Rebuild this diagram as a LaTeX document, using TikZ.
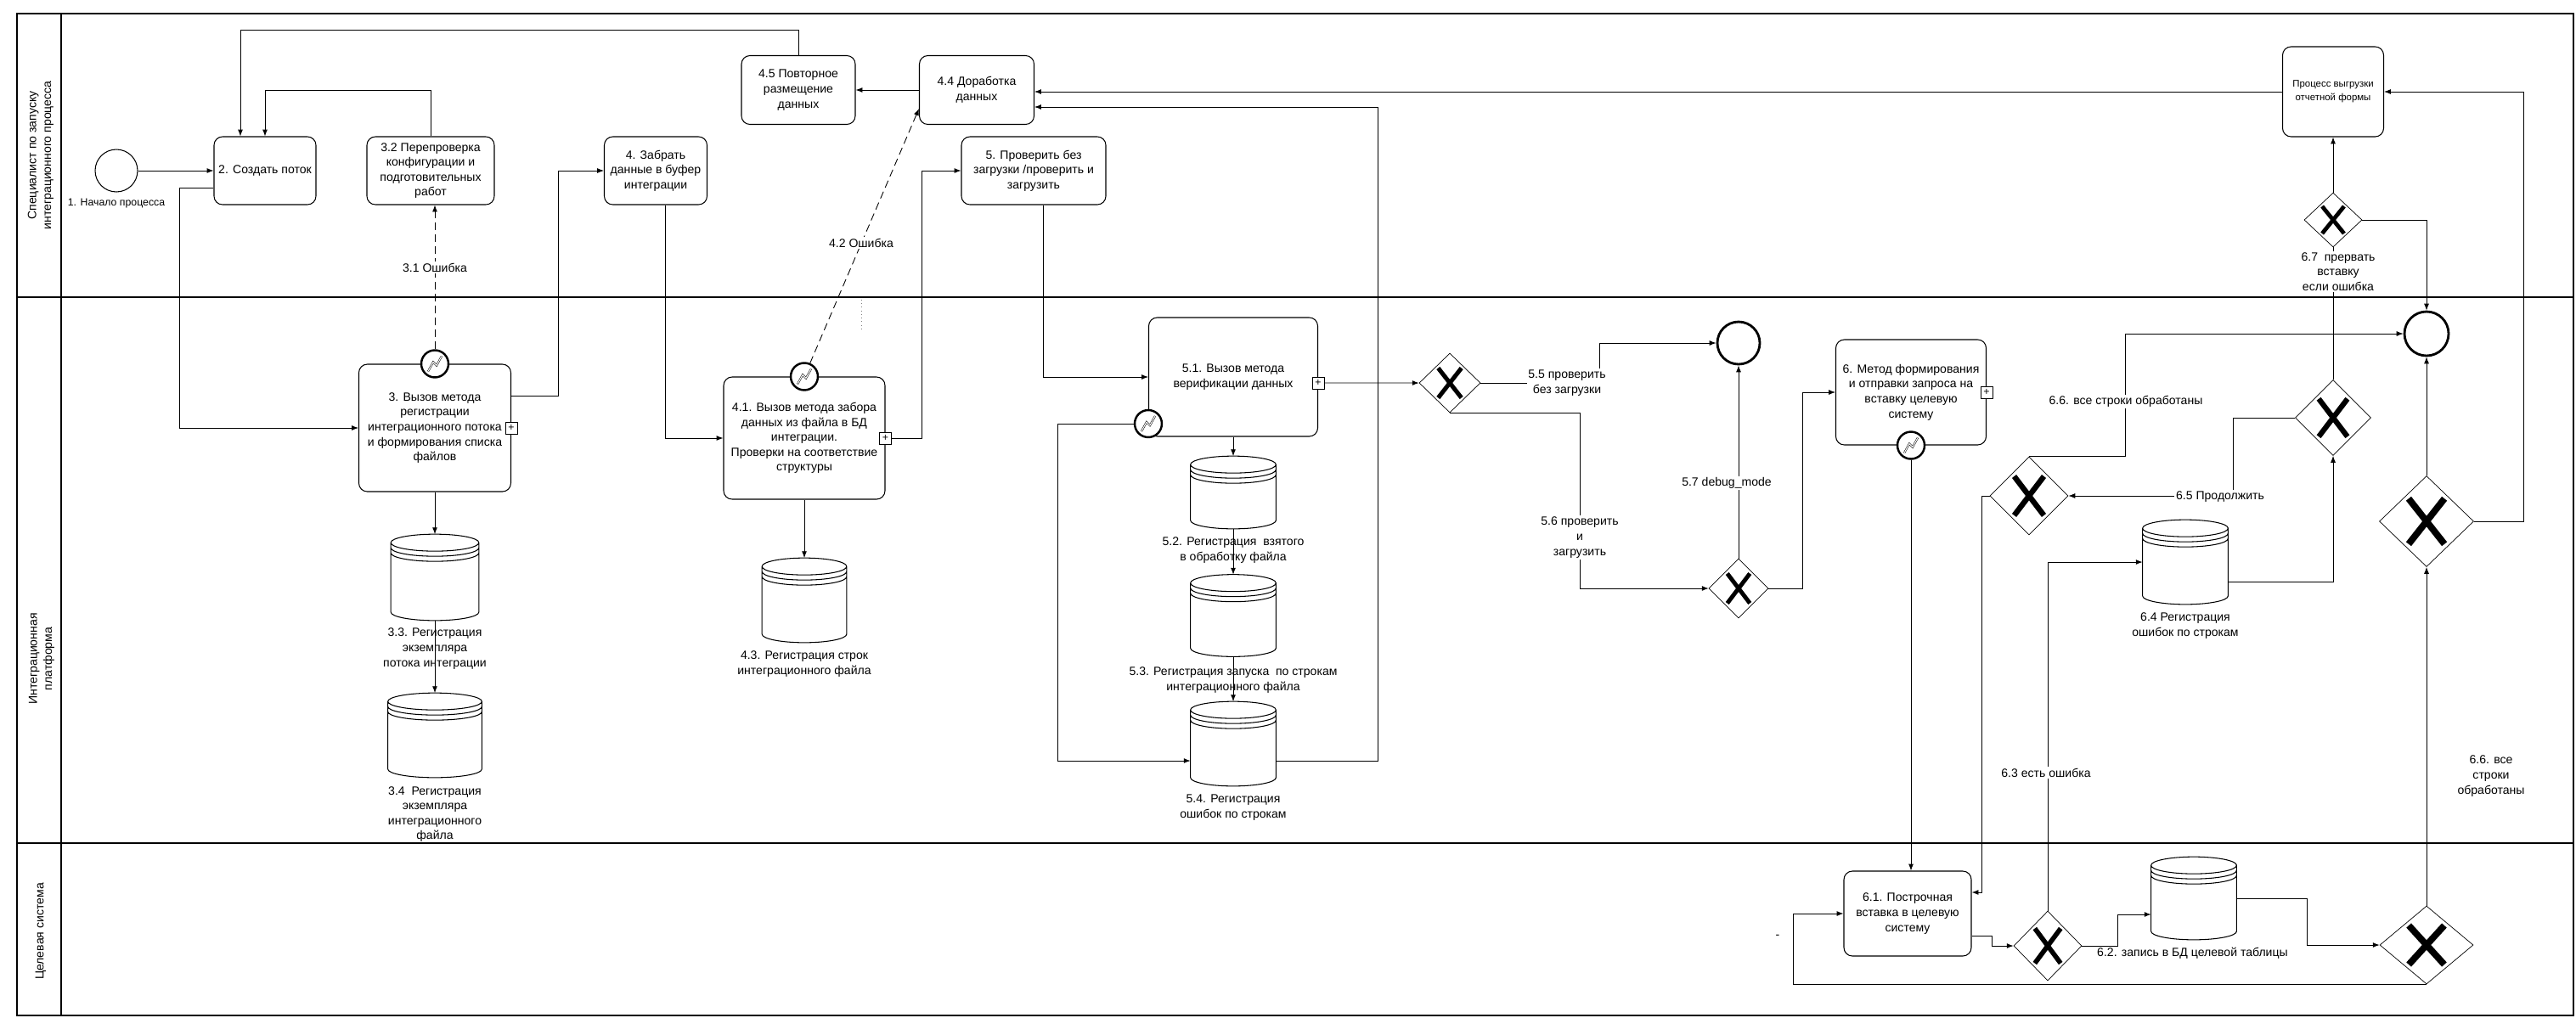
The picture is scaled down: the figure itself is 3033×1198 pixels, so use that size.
\documentclass[tikz,border=0pt]{standalone}
\usepackage{fontspec}
\setmainfont{Liberation Sans}
\usetikzlibrary{shapes.geometric,calc,arrows.meta}

% database symbol drawn on the box of a node
\newcommand{\dbdraw}[1]{%
  \draw[line width=0.6pt] let \p1=(#1.north west), \p2=(#1.south east), \n1={0.5*(\x2-\x1)} in
    (\x1,\y1-0.2cm) -- (\x1,\y2+0.2cm)
    arc[start angle=180, end angle=360, x radius=\n1*1pt, y radius=0.2cm]
    -- (\x2,\y1-0.2cm)
    arc[start angle=0, end angle=360, x radius=\n1*1pt, y radius=0.2cm]
    (\x1,\y1-0.32cm) arc[start angle=180, end angle=360, x radius=\n1*1pt, y radius=0.2cm]
    (\x1,\y1-0.44cm) arc[start angle=180, end angle=360, x radius=\n1*1pt, y radius=0.2cm];}

\begin{document}
\begin{tikzpicture}[x=0.02cm, y=-0.02cm,
    font=\fontsize{8}{10}\selectfont,
    >={Latex[length=4.5pt,width=3.4pt]},
    lane/.style={line width=1.2pt},
    task/.style 2 args={draw, line width=0.6pt, rounded corners=0.2cm, align=center,
      inner sep=1pt, minimum width=#1*0.02cm, minimum height=#2*0.02cm},
    db/.style 2 args={inner sep=0pt, minimum width=#1*0.02cm, minimum height=#2*0.02cm},
    gw/.style 2 args={diamond, draw, line width=0.4pt, inner sep=0pt,
      minimum width=#1*0.02cm, minimum height=#2*0.02cm,
      path picture={\draw[line width=#1*0.04pt, shift={(path picture bounding box.center)}]
        (-0.19*#1,-0.25*#2) -- (0.19*#1,0.25*#2) (-0.19*#1,0.25*#2) -- (0.19*#1,-0.25*#2);}},
    startev/.style={circle, draw, line width=0.6pt, minimum size=1cm, inner sep=0pt},
    endev/.style={circle, draw, line width=1.6pt, minimum size=1cm, inner sep=0pt},
    errev/.style={circle, draw, fill=white, line width=1.4pt, minimum size=0.64cm, inner sep=0pt,
      path picture={\draw[double, line width=0.3pt, shift={(path picture bounding box.center)}]
        (-8,9) -- (-2,-2) -- (2,2) -- (8,-9);}},
    subm/.style={draw, fill=white, line width=0.5pt, minimum size=0.28cm, inner sep=0pt,
      font=\fontsize{7}{7}\selectfont},
    flow/.style={->, line width=0.5pt},
    errflow/.style={->, line width=0.5pt, dash pattern=on 5pt off 3pt},
    lbl/.style={fill=white, inner sep=1pt, align=center}]

  \useasboundingbox (0,0) rectangle (3033,1198);

  % lanes
  \draw[lane] (20,16) rectangle (3030,1196);
  \draw[lane] (72,16) -- (72,1196);
  \draw[lane] (20,350) -- (3030,350);
  \draw[lane] (20,993) -- (3030,993);
  \node[rotate=90, align=center] (ln1) at (48,183) {Специалист по запуску\\интеграционного процесса};
  \node[rotate=90, align=center] (ln2) at (49,776) {Интеграционная\\платформа};
  \node[rotate=90] (ln3) at (48,1097) {Целевая система};

  % top lane
  \node[startev] (st) at (137,201) {};
  \node[font=\fontsize{7}{8}\selectfont] (stl) at (137,240) {1. Начало процесса};
  \node[task={120}{80}] (b2) at (312,201) {2. Создать поток};
  \node[task={150}{80}] (b32) at (507,201) {3.2 Перепроверка\\конфигурации и\\подготовительных\\работ};
  \node[task={121}{80}] (b4) at (772,201) {4. Забрать\\данные в буфер\\интеграции};
  \node[task={134}{81}] (b45) at (940,106) {4.5 Повторное\\размещение\\данных};
  \node[task={135}{81}] (b44) at (1150,106) {4.4 Доработка\\данных};
  \node[task={170}{80}] (b5) at (1217,201) {5. Проверить без\\загрузки /проверить и\\загрузить};
  \node[task={119}{106}, font=\fontsize{6.5}{9}\selectfont] (proc) at (2747,108) {Процесс выгрузки\\отчетной формы};
  \node[gw={68}{64}] (g5) at (2747,259) {};

  % integration platform lane
  \node[task={179}{150}] (b3) at (512,504) {3. Вызов метода\\регистрации\\интеграционного потока\\и формирования списка\\файлов};
  \node[errev] (e3) at (b3.north) {};
  \node[subm] (m3) at (b3.east) {+};
  \node[db={103}{101}] (c33) at (512,680) {}; \dbdraw{c33}
  \node[align=center] (c33l) at (512,764) {3.3. Регистрация\\экземпляра\\потока интеграции};
  \node[db={110}{99}] (c34) at (512,866) {}; \dbdraw{c34}
  \node[align=center] (c34l) at (512,959) {3.4\ \ Регистрация\\экземпляра\\интеграционного\\файла};

  \node[task={190}{144}] (b41) at (947,516) {4.1. Вызов метода забора\\данных из файла в БД\\интеграции.\\Проверки на соответствие\\структуры};
  \node[errev] (e41) at (b41.north) {};
  \node[subm] (m41) at (b41.east) {+};
  \node[db={99}{99}] (c43) at (947,707) {}; \dbdraw{c43}
  \node[align=center] (c43l) at (947,782) {4.3. Регистрация строк\\интеграционного файла};

  \node[task={199}{140}] (b51) at (1452,444) {5.1. Вызов метода\\верификации данных};
  \node[errev] (e51) at ([yshift=-1.1cm]b51.west) {};
  \node[subm] (m51) at ([yshift=-0.14cm]b51.east) {+};
  \node[db={100}{85}] (c52) at (1452,580) {}; \dbdraw{c52}
  \node[align=center] (c52l) at (1452,648) {5.2. Регистрация\ \ взятого\\в обработку файла};
  \node[db={100}{96}] (c53) at (1452,725) {}; \dbdraw{c53}
  \node[align=center] (c53l) at (1452,801) {5.3. Регистрация запуска\ \ по строкам\\интеграционного файла};
  \node[db={100}{99}] (c54) at (1452,876) {}; \dbdraw{c54}
  \node[align=center] (c54l) at (1452,951) {5.4. Регистрация\\ошибок по строкам};

  \node[gw={72}{70}] (g1) at (1707,451) {};
  \node[endev] (e1) at (2047,404) {};
  \node[gw={70}{70}] (g2) at (2047,693) {};
  \node[task={177}{124}] (b6) at (2250,462) {6. Метод формирования\\и отправки запроса на\\вставку целевую\\систему};
  \node[errev] (e6) at (b6.south) {};
  \node[subm] (m6) at (b6.east) {+};

  \node[gw={92}{92}] (g3) at (2389,584) {};
  \node[gw={89}{89}] (g4) at (2747,492) {};
  \node[endev, minimum size=1.04cm] (e2) at (2857,393) {};
  \node[gw={111}{107}] (g7) at (2857,614) {};
  \node[db={100}{99}] (c64) at (2573,662) {}; \dbdraw{c64}
  \node[align=center] (c64l) at (2573,737) {6.4 Регистрация\\ошибок по строкам};
  \node[align=center] (l66b) at (2933,914) {6.6. все\\строки\\обработаны};

  % target system lane
  \node[task={150}{100}] (b61) at (2246,1076) {6.1. Построчная\\вставка в целевую\\систему};
  \node[gw={80}{82}] (g6) at (2411,1114) {};
  \node[db={100}{97}] (c62) at (2583,1058) {}; \dbdraw{c62}
  \node[gw={110}{92}] (g8) at (2857,1113) {};
  \node[anchor=west] (l62) at (2463,1123) {6.2. запись в БД целевой таблицы};
  \node (dash) at (2093,1103) {-};

  \draw[gray, dotted] (1014,353) -- (1014,390);

  % flows
  \draw[flow] (st) -- (b2);
  \draw[flow] (b32.north) -- ++(0,-54) -| (b2.north);
  \draw[flow] (b45.north) -- ++(0,-30) -| ([xshift=-0.58cm]b2.north);
  \draw[flow] ([yshift=-0.4cm]b2.west) -- ++(-40,0) |- (b3.west);
  \draw[flow] ([yshift=0.76cm]b3.east) -- ++(55,0) |- (b4.west);
  \draw[errflow] (e3.north) -- (e3.north |- b32.south);
  \node[lbl] (l31) at (512,315) {3.1 Ошибка};
  \draw[flow] (b3) -- (c33);
  \draw[flow] (c33) -- (c34);

  \draw[flow] ([xshift=0.22cm]b4.south) |- (b41.west);
  \draw[errflow] (e41) -- ([yshift=0.38cm]b44.south west);
  \node[lbl] (l42) at (1014,286) {4.2 Ошибка};
  \draw[flow] (b41) -- (c43);
  \draw[flow] (b44) -- (b45);
  \draw[flow] (m41.east) -- ++(35,0) |- (b5.west);

  \draw[flow] ([xshift=0.22cm]b5.south) |- (b51.west);
  \draw[flow] (b51) -- (c52);
  \draw[flow] (c52) -- (c53);
  \draw[flow] (c53) -- (c54);
  \draw[flow] (e51.west) -- ++(-89,0) |- ([yshift=-0.4cm]c54.west);
  \draw[flow] ([yshift=-0.4cm]c54.east) -- ++(120,0) |- ([yshift=-0.4cm]b44.east);

  \draw[flow] (m51.east) -- (g1.west);
  \draw[flow] (g1.east) -- ++(140,0) |- (e1.west);
  \node[lbl] (l55) at (1845,451) {5.5 проверить\\без загрузки};
  \draw[flow] (g1.south) -- ++(153,0) |- (g2.west);
  \node[lbl] (l56) at (1860,633) {5.6 проверить\\и\\загрузить};
  \draw[flow] (g2) -- (e1);
  \node[lbl] (l57) at (2033,569) {5.7 debug\_mode};
  \draw[flow] (g2.east) -- ++(40,0) |- (b6.west);
  \draw[flow] (e6.south) -- (e6.south |- b61.north);

  \draw[flow] ([yshift=-0.52cm]b61.east) -- ++(24,0) |- (g6.west);
  \draw[flow] (g6.east) -- ++(42,0) |- ([yshift=-0.38cm]c62.west);
  \draw[flow] (c62.east) -- ++(83,0) |- (g8.west);
  \draw[flow] (g8.south) -- ++(-746,0) |- (b61.west);
  \draw[flow] (g8) -- (g7);
  \draw[flow] (g6.north) |- (c64.west);
  \node[lbl] (l63) at (2409,910) {6.3 есть ошибка};
  \draw[flow] ([yshift=-0.46cm]c64.east) -| (g4.south);
  \draw[flow] (g4.west) -- ++(-73,0) |- (g3.east);
  \node[lbl] (l65) at (2614,585) {6.5 Продолжить};
  \draw[flow] (g3.north) -- ++(113,0) |- (e2.west);
  \node[lbl] (l66) at (2503,473) {6.6. все строки обработаны};
  \draw[flow] (g3.west) -- ++(-9,0) |- ([yshift=0.5cm]b61.east);
  \draw[line width=0.5pt] (g4.north) -- (g5.south);
  \node[lbl] (l67) at (2753,320) {6.7\ \ прервать\\вставку\\если ошибка};
  \draw[flow] (g5) -- (proc);
  \draw[flow] (g5.east) -| (e2.north);
  \draw[flow] (g7) -- (e2);
  \draw[flow] (g7.east) -- ++(59,0) |- (proc.east);
  \draw[flow] (proc.west) -- (proc.west -| b44.east);

\end{tikzpicture}
\end{document}
